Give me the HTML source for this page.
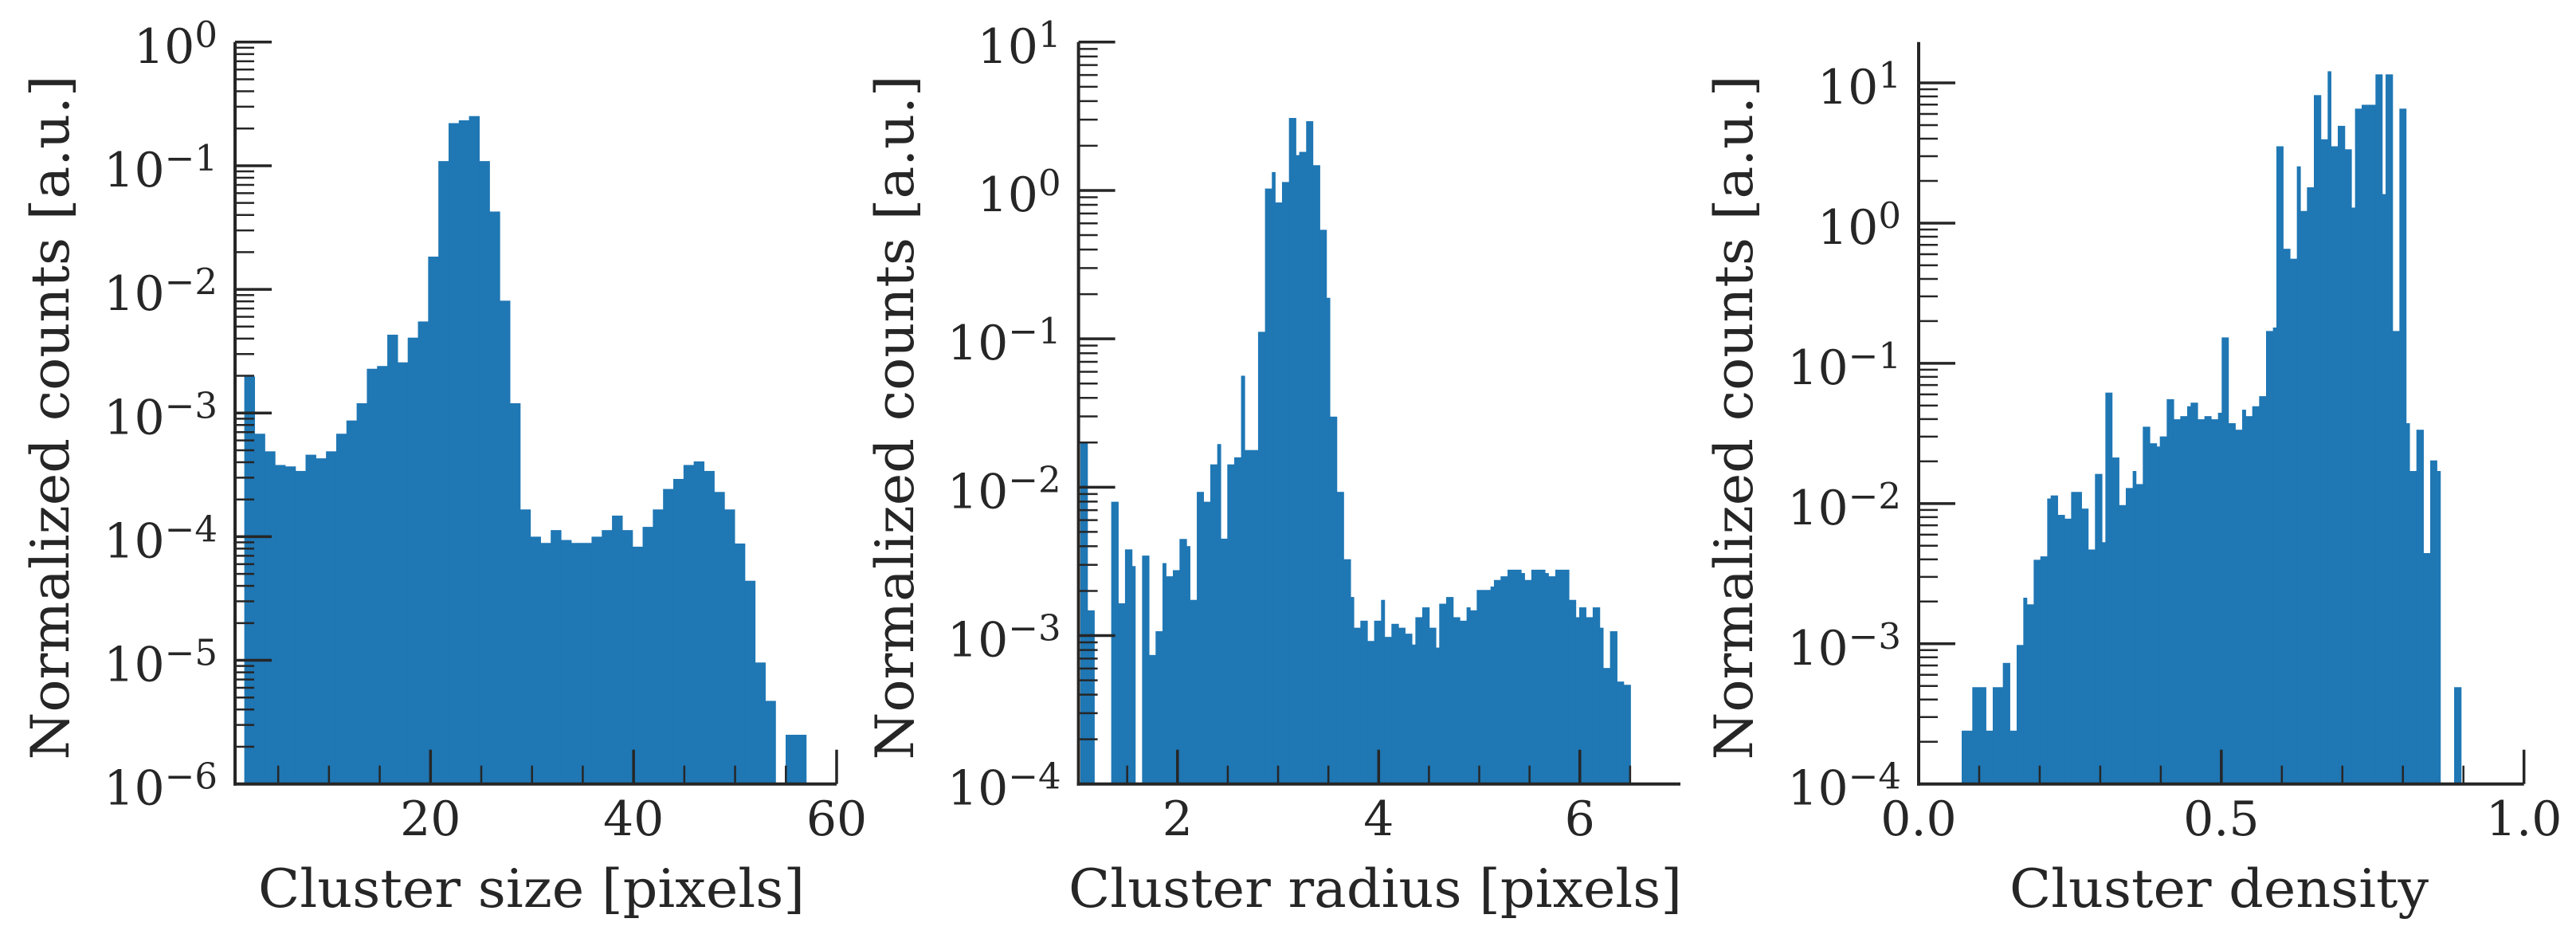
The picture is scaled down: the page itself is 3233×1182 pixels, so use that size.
<!DOCTYPE html>
<html><head><meta charset="utf-8"><style>
html,body{margin:0;padding:0;background:#fff;}
svg{display:block;}
text{font-family:"DejaVu Serif","Liberation Serif",serif;fill:#262626;}
</style></head><body>
<svg id="fig" width="3233" height="1182" viewBox="0 0 3233 1182" xmlns="http://www.w3.org/2000/svg"></svg>
<script>
// Panel 1: cluster size
const sizeBinStart = 1.66;
const sizeBinWidth = 1.006;
const sizeCounts = [1.97e-3,6.8e-4,4.9e-4,3.8e-4,3.7e-4,3.4e-4,4.6e-4,4.3e-4,4.9e-4,6.8e-4,8.7e-4,1.2e-3,2.28e-3,2.4e-3,4.3e-3,2.57e-3,4.07e-3,5.5e-3,1.84e-2,0.109,0.221,0.233,0.252,0.109,0.0426,8.1e-3,1.2e-3,1.66e-4,1.0e-4,8.9e-5,1.13e-4,9.4e-5,8.9e-5,8.9e-5,1.0e-4,1.13e-4,1.48e-4,1.13e-4,8.3e-5,1.2e-4,1.66e-4,2.43e-4,2.93e-4,3.8e-4,4.06e-4,3.4e-4,2.3e-4,1.66e-4,8.8e-5,4.4e-5,9.6e-6,4.7e-6,0,2.5e-6,2.5e-6];
const sizeXTicks = [20,40,60];
const sizeXMinor = [5,10,15,25,30,35,45,50,55];
const sizeYDecades = [-6,-5,-4,-3,-2,-1,0];

// Panel 2: cluster radius
const radiusEdges = [1.035,1.104,1.172,1.341,1.410,1.478,1.547,1.579,1.648,1.716,1.782,1.851,1.885,1.954,2.020,2.089,2.123,2.192,2.258,2.326,2.395,2.429,2.495,2.564,2.632,2.667,2.801,2.870,2.938,2.970,3.039,3.108,3.176,3.210,3.279,3.345,3.414,3.480,3.514,3.583,3.651,3.720,3.752,3.818,3.887,3.955,4.024,4.058,4.127,4.196,4.262,4.330,4.365,4.433,4.502,4.568,4.602,4.671,4.740,4.806,4.874,4.909,4.975,5.112,5.146,5.212,5.281,5.416,5.450,5.518,5.653,5.687,5.756,5.891,5.959,5.994,6.060,6.128,6.197,6.231,6.300,6.369,6.435,6.503];
const radiusCounts = [0.020,1.48e-3,0,7.98e-3,1.65e-3,3.81e-3,2.94e-3,0,3.46e-3,7.4e-4,1.07e-3,3.08e-3,2.51e-3,2.76e-3,4.48e-3,4.01e-3,1.74e-3,9.3e-3,7.98e-3,0.01425,0.01953,4.5e-3,0.01425,0.0159,0.0564,0.0178,0.1115,1.03,1.33,0.83,1.14,3.08,1.73,1.82,2.93,1.48,0.543,0.189,0.0299,9.3e-3,3.27e-3,1.82e-3,1.13e-3,1.26e-3,9.2e-4,1.26e-3,1.74e-3,9.8e-4,1.2e-3,1.13e-3,1.03e-3,8.7e-4,1.33e-3,1.55e-3,1.13e-3,8.3e-4,1.64e-3,1.82e-3,1.33e-3,1.26e-3,1.55e-3,1.48e-3,2.03e-3,2.14e-3,2.37e-3,2.51e-3,2.78e-3,2.64e-3,2.37e-3,2.78e-3,2.64e-3,2.51e-3,2.78e-3,1.74e-3,1.33e-3,1.55e-3,1.33e-3,1.55e-3,1.13e-3,6.05e-4,1.07e-3,4.9e-4,4.66e-4];
const radiusXTicks = [2,4,6];
const radiusXMinor = [1.5,2.5,3,3.5,4.5,5,5.5,6.5];
const radiusYDecades = [-4,-3,-2,-1,0,1];

// Panel 3: cluster density
const densityEdges = [0.0711,0.0886,0.1110,0.1224,0.1391,0.1505,0.1619,0.1729,0.1786,0.1900,0.2010,0.2124,0.2181,0.2295,0.2409,0.2519,0.2690,0.2799,0.2913,0.3027,0.3085,0.3194,0.3308,0.3422,0.3536,0.3589,0.3703,0.3817,0.3931,0.3984,0.4098,0.4212,0.4322,0.4436,0.4493,0.4607,0.4721,0.4831,0.4945,0.5006,0.5116,0.5230,0.5344,0.5401,0.5511,0.5625,0.5739,0.5853,0.5910,0.6020,0.6134,0.6248,0.6305,0.6415,0.6529,0.6643,0.6757,0.6810,0.6924,0.7038,0.7148,0.7209,0.7319,0.7547,0.7657,0.7714,0.7828,0.7942,0.8051,0.8108,0.8223,0.8337,0.8451,0.8560,0.8617,0.8846,0.8960];
const densityCounts = [2.4e-4,4.9e-4,2.4e-4,4.9e-4,7.3e-4,2.4e-4,9.8e-4,2.13e-3,1.91e-3,3.97e-3,4.2e-3,0.01086,0.01142,8.3e-3,7.8e-3,0.0121,9.2e-3,4.7e-3,0.01626,5.3e-3,0.0618,0.0213,9.75e-3,0.0129,0.01706,0.01376,0.0353,0.0269,0.0255,0.0301,0.0555,0.0399,0.042,0.0494,0.0524,0.0399,0.042,0.0399,0.0444,0.153,0.0374,0.0336,0.0467,0.042,0.0494,0.0583,0.170,0.180,3.53,0.656,0.557,2.54,1.22,1.80,8.18,3.96,12.1,3.53,4.94,3.36,1.29,6.55,6.98,11.5,1.61,11.5,0.170,6.55,0.0374,0.01706,0.0336,4.43e-3,0.0203,0.01706,0,4.9e-4];
const densityXTicks = [0,0.5,1.0];
const densityXTickLabels = ["0.0","0.5","1.0"];
const densityXMinor = [0.1,0.2,0.3,0.4,0.6,0.7,0.8,0.9];
const densityYDecades = [-4,-3,-2,-1,0,1];

const NS = "http://www.w3.org/2000/svg";
const svg = document.getElementById('fig');
const INK = "#262626", BAR = "#1f77b4";
function mk(tag, attrs, parent){ const e=document.createElementNS(NS,tag); for(const k in attrs) e.setAttribute(k,attrs[k]); (parent||svg).appendChild(e); return e; }

function panel(p){
  const g = mk('g',{});
  
  
  const sx = v => p.L + (v - p.xmin)/(p.xmax - p.xmin)*(p.R - p.L);
  const sy = v => p.B - (Math.log10(v) - p.ymin)/(p.ymax - p.ymin)*(p.B - p.T);
  const bars = mk('g',{},g);
  
  
  for(let i=0;i<p.counts.length;i++){
    const v = p.counts[i]; if(!(v>0)) continue;
    const x0 = sx(p.edges[i]), x1 = sx(p.edges[i+1]);
    const y = sy(v);
    const r = mk('rect',{x:x0,y:y,width:Math.max(0,x1-x0)+0.6,height:p.B-y,fill:BAR},bars);
    
    
  }
  for(const d of p.yDecades){
    const y = sy(Math.pow(10,d));
    mk('line',{x1:p.L,x2:p.L+46,y1:y,y2:y,stroke:INK,'stroke-width':3.5},g);
    const t = mk('text',{x:p.L-22,y:y+26,'font-size':60,'text-anchor':'end'},g);
    
    
    const a = document.createElementNS(NS,'tspan'); a.textContent='10'; t.appendChild(a);
    const b = document.createElementNS(NS,'tspan'); b.setAttribute('font-size','45'); b.setAttribute('dy','-20');
    b.textContent = d<0 ? '\u2212'+(-d) : String(d); t.appendChild(b);
    for(let m=2;m<=9;m++){
      const lv = d + Math.log10(m);
      if(lv > p.ymax || lv < p.ymin) continue;
      const yy = sy(m*Math.pow(10,d));
      mk('line',{x1:p.L,x2:p.L+24,y1:yy,y2:yy,stroke:INK,'stroke-width':2.5},g);
    }
  }
  p.xTicks.forEach((v,i)=>{
    const x = sx(v);
    mk('line',{x1:x,x2:x,y1:p.B,y2:p.B-43,stroke:INK,'stroke-width':3.5},g);
    const t = mk('text',{x:x,y:1048,'font-size':60,'text-anchor':'middle'},g);
    
    
    t.textContent = p.xLabels ? p.xLabels[i] : String(v);
  });
  for(const v of p.xMinor){
    const x = sx(v);
    mk('line',{x1:x,x2:x,y1:p.B,y2:p.B-23,stroke:INK,'stroke-width':2.5},g);
  }
  mk('line',{x1:p.L,x2:p.L,y1:p.T,y2:p.B+2,stroke:INK,'stroke-width':4},g);
  mk('line',{x1:p.L-2,x2:p.R,y1:p.B,y2:p.B,stroke:INK,'stroke-width':4},g);
  const xl = mk('text',{x:p.xlc,y:1138,'font-size':66,'text-anchor':'middle',textLength:p.xlw,lengthAdjust:'spacingAndGlyphs'},g);
  
  
  xl.textContent = p.xlabel;
  const yl = mk('text',{x:0,y:0,'font-size':66,'text-anchor':'middle',textLength:859,lengthAdjust:'spacingAndGlyphs',transform:`translate(${p.ylx},524) rotate(-90)`},g);
  
  
  yl.textContent = 'Normalized counts [a.u.]';
}

const sizeEdges = [];
for(let i=0;i<=sizeCounts.length;i++) sizeEdges.push(sizeBinStart + i*sizeBinWidth);

const T = 52.8, B = 983.7;
panel({name:'cluster-size-panel',L:295,R:1050,T:T,B:B,xmin:0.75,xmax:60,ymin:-6,ymax:0,
  edges:sizeEdges,counts:sizeCounts,xTicks:sizeXTicks,xMinor:sizeXMinor,yDecades:sizeYDecades,
  xlabel:'Cluster size [pixels]',xlc:667,xlw:686,ylx:86});
panel({name:'cluster-radius-panel',L:1353.6,R:2109,T:T,B:B,xmin:1.016,xmax:7.0,ymin:-4,ymax:1,
  edges:radiusEdges,counts:radiusCounts,xTicks:radiusXTicks,xMinor:radiusXMinor,yDecades:radiusYDecades,
  xlabel:'Cluster radius [pixels]',xlc:1726,xlw:770,ylx:1146});
panel({name:'cluster-density-panel',L:2408,R:3167.7,T:T,B:B,xmin:0,xmax:1,ymin:-4,ymax:1.291,
  edges:densityEdges,counts:densityCounts,xTicks:densityXTicks,xLabels:densityXTickLabels,xMinor:densityXMinor,yDecades:densityYDecades,
  xlabel:'Cluster density',xlc:2785,xlw:526,ylx:2199});
</script>
</body></html>
